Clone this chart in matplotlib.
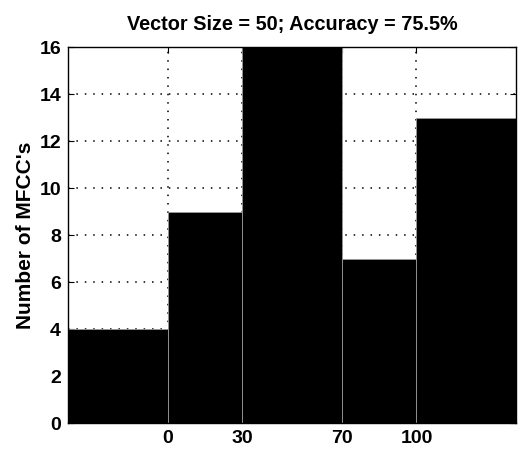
import matplotlib.pyplot as plt
import numpy as np

plt.rcParams['font.family'] = ['Liberation Sans', 'DejaVu Sans']
plt.rcParams['font.weight'] = 'bold'

# histogram bins and counts
bin_edges = [-40, 0, 30, 70, 100, 140]
counts = [4, 9, 16, 7, 13]
x_ticks = [0, 30, 70, 100]
y_ticks = [0, 2, 4, 6, 8, 10, 12, 14, 16]

fig = plt.figure(figsize=(5.2, 4.53), dpi=100)
ax = fig.add_axes([0.1308, 0.0662, 0.8615, 0.83])

edges = np.array(bin_edges)
ax.bar(edges[:-1], counts, width=np.diff(edges), align='edge',
       color='black', edgecolor='#9a9a9a', linewidth=0.6, zorder=2)

ax.set_xlim(bin_edges[0], bin_edges[-1])
ax.set_ylim(0, 16)
ax.set_xticks(x_ticks)
ax.set_yticks(y_ticks)
ax.tick_params(direction='in', length=4, labelsize=14, width=0.8,
               top=True, right=True, pad=5)
for lbl in ax.get_xticklabels() + ax.get_yticklabels():
    lbl.set_fontweight('bold')

ax.grid(True, linestyle=(0, (1, 4.5)), color='black', linewidth=1.1, zorder=1)
ax.set_axisbelow(True)
for s in ax.spines.values():
    s.set_linewidth(1.0)
    s.set_zorder(3)

ax.set_ylabel("Number of MFCC's", fontsize=15, fontweight='bold', labelpad=3)
ax.set_title("Vector Size = 50; Accuracy = 75.5%", fontsize=14.3,
             fontweight='bold', pad=12)

plt.savefig("out.png", dpi=100)
